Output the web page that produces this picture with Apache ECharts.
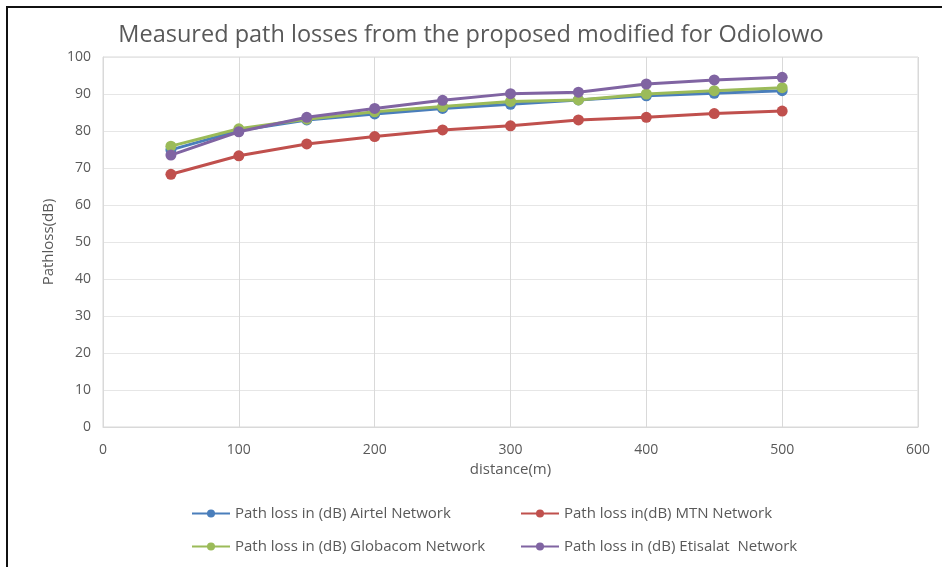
<!DOCTYPE html>
<html>
<head>
<meta charset="utf-8">
<script src="https://cdn.jsdelivr.net/npm/echarts@6/dist/echarts.min.js"></script>
<style>
  html, body { margin: 0; padding: 0; background: #fff; }
  #frame { position: absolute; left: 6px; top: 6px; width: 936px; height: 561px;
           border-top: 2px solid #111; border-left: 2px solid #111; }
  #chart { position: absolute; left: 0; top: 0; width: 942px; height: 567px; }
</style>
</head>
<body>
<div id="frame"></div>
<div id="chart"></div>
<script>
var distance = [50, 100, 150, 200, 250, 300, 350, 400, 450, 500]; // x, metres
var airtel   = [74.9, 80.1, 83.0, 84.6, 86.1, 87.2, 88.4, 89.5, 90.2, 90.9];
var mtn      = [68.3, 73.3, 76.5, 78.5, 80.3, 81.4, 83.0, 83.7, 84.7, 85.4];
var globacom = [75.9, 80.6, 83.2, 85.2, 86.6, 88.0, 88.4, 90.0, 90.9, 91.7];
var etisalat = [73.5, 79.8, 83.7, 86.1, 88.3, 90.1, 90.5, 92.7, 93.8, 94.5];

var names  = ['Path loss in (dB) Airtel Network', 'Path loss in(dB) MTN Network',
              'Path loss in (dB) Globacom Network', 'Path loss in (dB) Etisalat  Network'];
var colors = ['#4a7ebb', '#c0504d', '#9bbb59', '#8064a2'];
var values = [airtel, mtn, globacom, etisalat];

// legend slot for each series: [left, top]
var legendPos = [[186, 501], [515, 501], [186, 534], [515, 534]];

function pairs(ys) {
  return distance.map(function (d, i) { return [d, ys[i]]; });
}

var series = values.map(function (ys, i) {
  return {
    name: names[i], type: 'line', data: pairs(ys),
    symbol: 'circle', symbolSize: 11,
    lineStyle: { width: 3, color: colors[i] },
    itemStyle: { color: colors[i] },
    z: 2 + i
  };
});

var legends = names.map(function (n, i) {
  return {
    data: [n], left: legendPos[i][0], top: legendPos[i][1],
    itemWidth: 38, itemHeight: 10, itemGap: 0,
    textStyle: { fontSize: 15, color: '#595959' }
  };
});

var chart = echarts.init(document.getElementById('chart'));
chart.setOption({
  animation: false,
  textStyle: { fontFamily: 'Open Sans, Liberation Sans, sans-serif' },
  title: {
    text: 'Measured path losses from the proposed modified for Odiolowo',
    left: 'center', top: 18,
    textStyle: { fontSize: 23.5, fontWeight: 'normal', color: '#595959' }
  },
  grid: { left: 103, right: 24, top: 57, bottom: 140, containLabel: false, show: true, borderColor: '#d9d9d9', borderWidth: 1 },
  xAxis: {
    type: 'value', min: 0, max: 600, interval: 100,
    name: 'distance(m)', nameLocation: 'middle', nameGap: 33,
    nameTextStyle: { fontSize: 15, color: '#595959' },
    axisLine: { show: true, lineStyle: { color: '#d9d9d9' } },
    axisTick: { show: false },
    axisLabel: { fontSize: 14, color: '#595959', margin: 16 },
    splitLine: { show: true, lineStyle: { color: '#d9d9d9' } }
  },
  yAxis: {
    type: 'value', min: 0, max: 100, interval: 10,
    name: 'Pathloss(dB)', nameLocation: 'middle', nameGap: 46,
    nameTextStyle: { fontSize: 15, color: '#595959' },
    axisLine: { show: true, lineStyle: { color: '#d9d9d9' } },
    axisTick: { show: false },
    axisLabel: { fontSize: 14, color: '#595959', margin: 12 },
    splitLine: { show: true, lineStyle: { color: '#e6e6e6' } }
  },
  legend: legends,
  series: series
});
</script>
</body>
</html>
